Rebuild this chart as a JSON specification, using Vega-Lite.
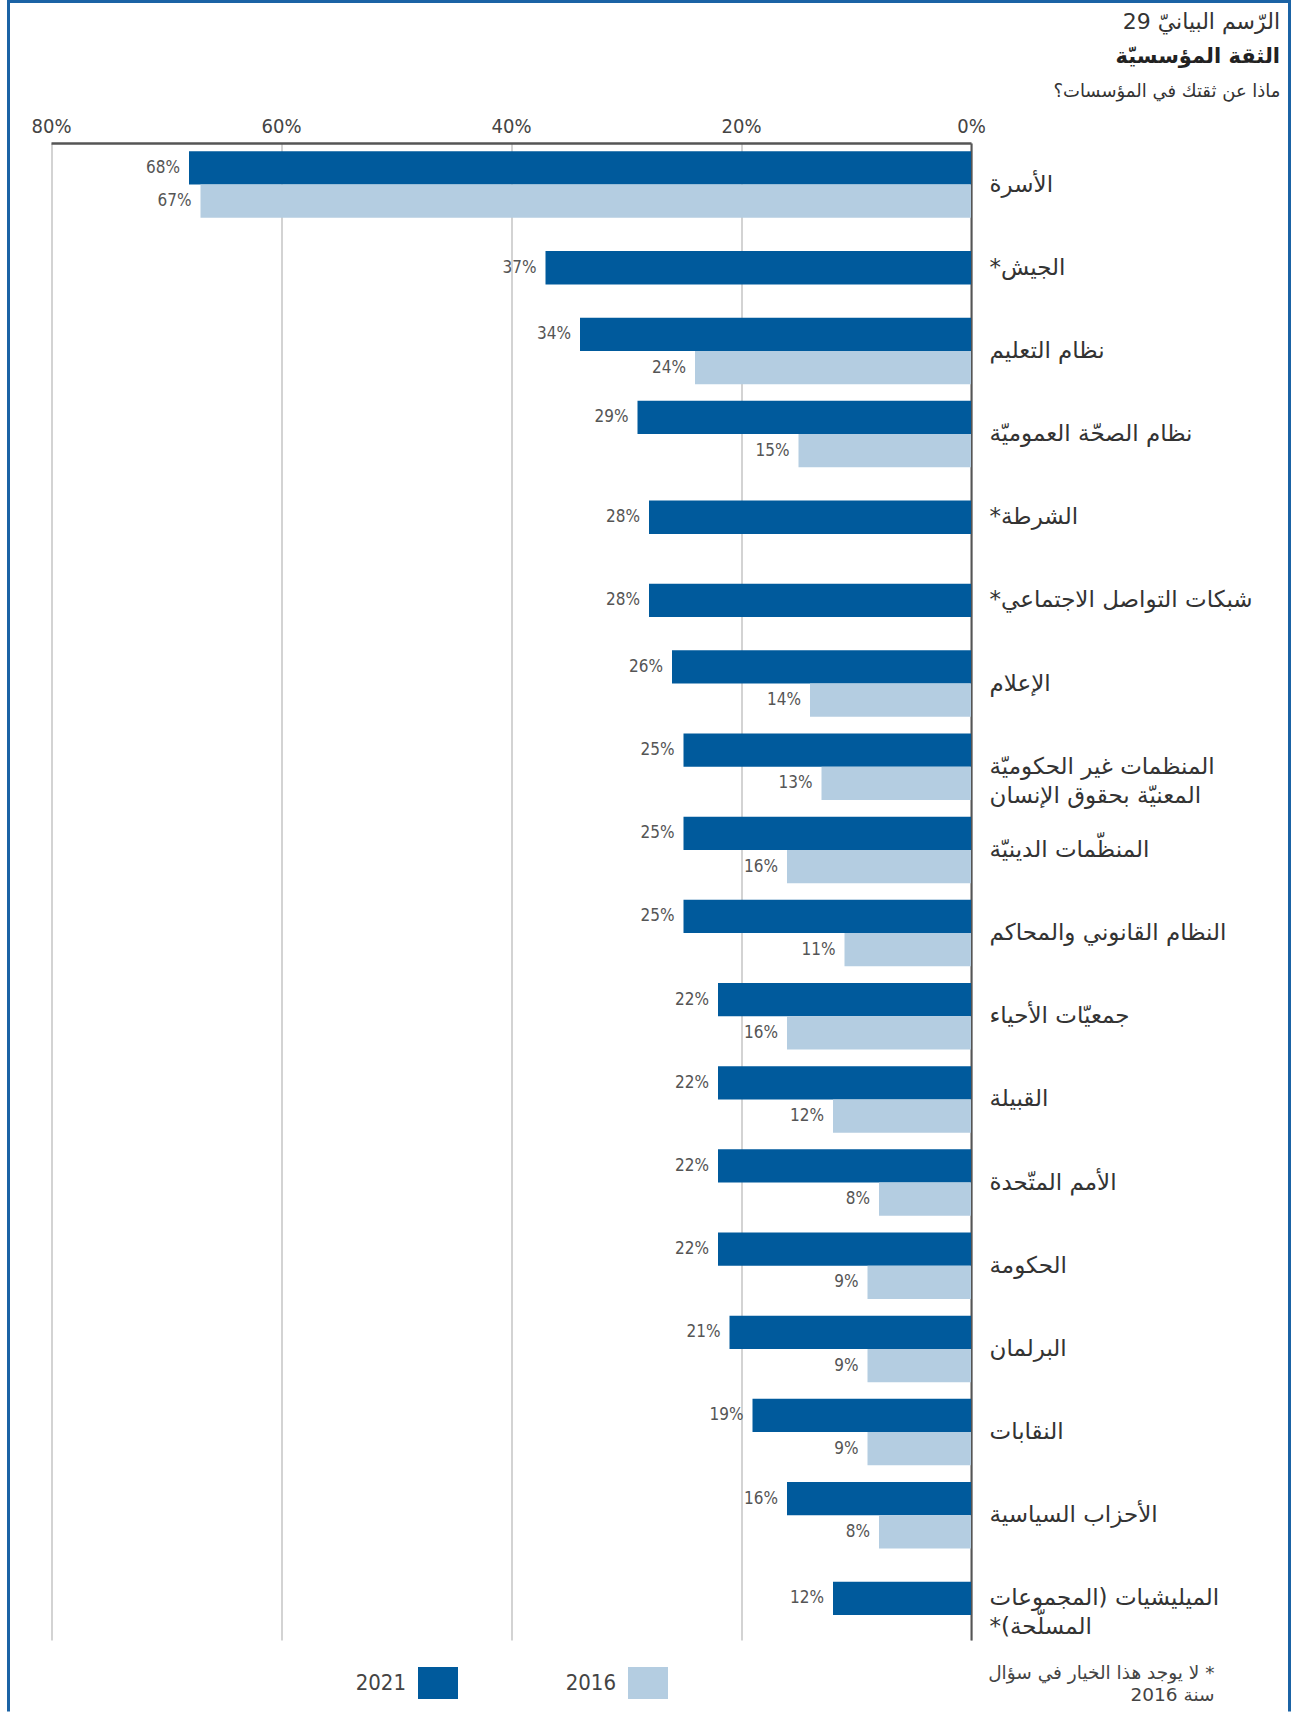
{
  "$schema": "https://vega.github.io/schema/vega-lite/v6.json",
  "autosize": "none",
  "width": 1281,
  "height": 1710,
  "padding": {"left": 8.5, "top": 1.5, "right": 3, "bottom": 0},
  "background": "#ffffff",
  "config": {
    "view": {"stroke": "#1b63a5", "strokeWidth": 3, "strokeDash": [2991, 1281, 1710]},
    "font": "DejaVu Sans"
  },
  "title": {
    "text": "الرّسم البيانيّ 29",
    "subtitle": "الثقة المؤسسيّة",
    "anchor": "end",
    "frame": "group",
    "orient": "top",
    "offset": -66,
    "dx": -9.5,
    "font": "DejaVu Sans",
    "fontSize": 22,
    "fontWeight": "normal",
    "color": "#333333",
    "subtitleFont": "DejaVu Sans",
    "subtitleFontSize": 21,
    "subtitleFontWeight": "bold",
    "subtitleColor": "#222222",
    "subtitlePadding": 12
  },
  "data": {
    "values": [
      {"cat": "الأسرة", "year": "2021", "value": 0.68},
      {"cat": "الأسرة", "year": "2016", "value": 0.67},
      {"cat": "الجيش*", "year": "2021", "value": 0.37},
      {"cat": "نظام التعليم", "year": "2021", "value": 0.34},
      {"cat": "نظام التعليم", "year": "2016", "value": 0.24},
      {"cat": "نظام الصحّة العموميّة", "year": "2021", "value": 0.29},
      {"cat": "نظام الصحّة العموميّة", "year": "2016", "value": 0.15},
      {"cat": "الشرطة*", "year": "2021", "value": 0.28},
      {"cat": "شبكات التواصل الاجتماعي*", "year": "2021", "value": 0.28},
      {"cat": "الإعلام", "year": "2021", "value": 0.26},
      {"cat": "الإعلام", "year": "2016", "value": 0.14},
      {"cat": "المنظمات غير الحكوميّة|المعنيّة بحقوق الإنسان", "year": "2021", "value": 0.25},
      {"cat": "المنظمات غير الحكوميّة|المعنيّة بحقوق الإنسان", "year": "2016", "value": 0.13},
      {"cat": "المنظّمات الدينيّة", "year": "2021", "value": 0.25},
      {"cat": "المنظّمات الدينيّة", "year": "2016", "value": 0.16},
      {"cat": "النظام القانوني والمحاكم", "year": "2021", "value": 0.25},
      {"cat": "النظام القانوني والمحاكم", "year": "2016", "value": 0.11},
      {"cat": "جمعيّات الأحياء", "year": "2021", "value": 0.22},
      {"cat": "جمعيّات الأحياء", "year": "2016", "value": 0.16},
      {"cat": "القبيلة", "year": "2021", "value": 0.22},
      {"cat": "القبيلة", "year": "2016", "value": 0.12},
      {"cat": "الأمم المتّحدة", "year": "2021", "value": 0.22},
      {"cat": "الأمم المتّحدة", "year": "2016", "value": 0.08},
      {"cat": "الحكومة", "year": "2021", "value": 0.22},
      {"cat": "الحكومة", "year": "2016", "value": 0.09},
      {"cat": "البرلمان", "year": "2021", "value": 0.21},
      {"cat": "البرلمان", "year": "2016", "value": 0.09},
      {"cat": "النقابات", "year": "2021", "value": 0.19},
      {"cat": "النقابات", "year": "2016", "value": 0.09},
      {"cat": "الأحزاب السياسية", "year": "2021", "value": 0.16},
      {"cat": "الأحزاب السياسية", "year": "2016", "value": 0.08},
      {"cat": "الميليشيات (المجموعات|المسلّحة)*", "year": "2021", "value": 0.12}
    ]
  },
  "transform": [
    {"joinaggregate": [{"op": "count", "as": "n"}], "groupby": ["cat"]}
  ],
  "encoding": {
    "y": {
      "field": "cat",
      "type": "nominal",
      "sort": ["الأسرة", "الجيش*", "نظام التعليم", "نظام الصحّة العموميّة", "الشرطة*", "شبكات التواصل الاجتماعي*", "الإعلام", "المنظمات غير الحكوميّة|المعنيّة بحقوق الإنسان", "المنظّمات الدينيّة", "النظام القانوني والمحاكم", "جمعيّات الأحياء", "القبيلة", "الأمم المتّحدة", "الحكومة", "البرلمان", "النقابات", "الأحزاب السياسية", "الميليشيات (المجموعات|المسلّحة)*"],
      "scale": {"range": [141.5, 1638.5], "paddingInner": 0.2, "paddingOuter": 0.1},
      "axis": {
        "orient": "right",
        "offset": -318.5,
        "domain": true,
        "domainColor": "#555555",
        "domainWidth": 2,
        "ticks": false,
        "grid": false,
        "labelPadding": 18,
        "labelAlign": "left",
        "labelBaseline": "middle",
        "labelFont": "DejaVu Sans",
        "labelFontSize": 23,
        "labelColor": "#333333",
        "labelLineHeight": 29,
        "labelLimit": 500,
        "labelExpr": "split('\u200f' + replace(datum.label, '|', '\u200f|\u200f') + '\u200f', '|')",
        "title": ["\u200f* لا يوجد هذا الخيار في سؤال", "سنة 2016"],
        "titleAngle": 0,
        "titleX": 243,
        "titleY": 1662,
        "titleAlign": "right",
        "titleBaseline": "top",
        "titleFont": "DejaVu Sans",
        "titleFontSize": 18.5,
        "titleFontWeight": "normal",
        "titleLineHeight": 22,
        "titleColor": "#444444"
      }
    },
    "x": {
      "field": "value",
      "type": "quantitative",
      "scale": {"domain": [0, 0.8], "range": [962.5, 42.5], "nice": false},
      "axis": {
        "orient": "top",
        "offset": -141.5,
        "values": [0, 0.2, 0.4, 0.6, 0.8],
        "format": ".0%",
        "grid": true,
        "gridColor": "#c4c4c4",
        "gridWidth": 1.5,
        "domain": true,
        "domainColor": "#555555",
        "domainWidth": 2.5,
        "ticks": false,
        "labelFlush": false,
        "labelPadding": 7,
        "labelFont": "Liberation Sans Narrow, DejaVu Sans Condensed, sans-serif",
        "labelFontSize": 20,
        "labelColor": "#444444",
        "title": "ماذا عن ثقتك في المؤسسات؟",
        "titleX": 1271.5,
        "titleY": -52,
        "titleAlign": "right",
        "titleBaseline": "middle",
        "titleFont": "DejaVu Sans",
        "titleFontSize": 18,
        "titleFontWeight": "normal",
        "titleColor": "#333333"
      }
    }
  },
  "layer": [
    {
      "transform": [{"filter": "datum.n == 2"}],
      "mark": {"type": "bar"},
      "encoding": {
        "yOffset": {"field": "year", "type": "nominal", "sort": ["2021", "2016"], "scale": {"paddingInner": 0, "paddingOuter": 0}},
        "color": {
          "field": "year",
          "type": "nominal",
          "sort": ["2021", "2016"],
          "scale": {"domain": ["2021", "2016"], "range": ["#005a9c", "#b4cde1"]},
          "legend": {
            "orient": "none",
            "legendX": 409.5,
            "legendY": 1661.5,
            "direction": "horizontal",
            "title": null,
            "symbolType": "M-1,-0.8H1V0.8H-1Z",
            "symbolSize": 1600,
            "symbolStrokeWidth": 0,
            "labelAlign": "right",
            "labelOffset": -52,
            "labelFont": "Liberation Sans Narrow, DejaVu Sans Condensed, sans-serif",
            "labelFontSize": 22,
            "labelColor": "#444444",
            "columnPadding": 107,
            "padding": 0
          }
        }
      }
    },
    {
      "transform": [{"filter": "datum.n == 2"}],
      "mark": {"type": "text", "align": "right", "baseline": "middle", "dx": -9, "font": "Liberation Sans Narrow, DejaVu Sans Condensed, sans-serif", "fontSize": 17, "color": "#555555"},
      "encoding": {
        "yOffset": {"field": "year", "type": "nominal", "sort": ["2021", "2016"]},
        "text": {"field": "value", "type": "quantitative", "format": ".0%"}
      }
    },
    {
      "transform": [{"filter": "datum.n == 1"}],
      "mark": {"type": "bar", "height": {"band": 0.5}, "color": "#005a9c"},
      "encoding": {}
    },
    {
      "transform": [{"filter": "datum.n == 1"}],
      "mark": {"type": "text", "align": "right", "baseline": "middle", "dx": -9, "font": "Liberation Sans Narrow, DejaVu Sans Condensed, sans-serif", "fontSize": 17, "color": "#555555"},
      "encoding": {
        "text": {"field": "value", "type": "quantitative", "format": ".0%"}
      }
    }
  ]
}
